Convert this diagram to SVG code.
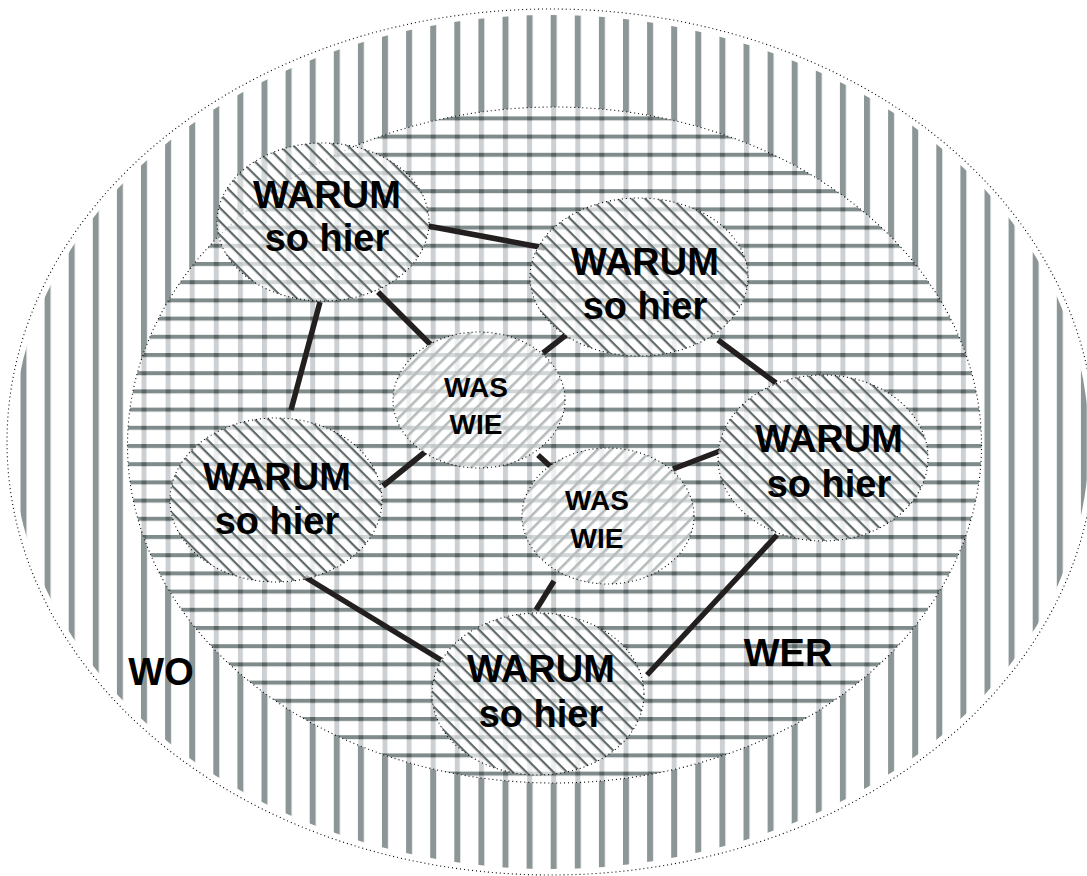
<svg xmlns="http://www.w3.org/2000/svg" width="1087" height="876" viewBox="0 0 1087 876">
  <defs>
    <!-- vertical bars of the outer field -->
    <pattern id="bars" patternUnits="userSpaceOnUse" x="20.5" y="0" width="24.1" height="20">
      <rect x="0" y="0" width="6" height="20" fill="#8c9696"/>
    </pattern>
    <!-- grid of the inner field -->
    <pattern id="grid" patternUnits="userSpaceOnUse" x="21" y="7.2" width="24.1" height="18.2">
      <rect x="0" y="0" width="5" height="18.2" fill="#cdd0d3"/>
      <rect x="0" y="0" width="24.1" height="4" fill="#808b8b"/>
      <rect x="0" y="0" width="5" height="4" fill="#5c6565"/>
    </pattern>
    <!-- dark back-slash hatching -->
    <pattern id="hatchDark" patternUnits="userSpaceOnUse" width="9.6" height="9.6" patternTransform="rotate(45)">
      <rect x="0" y="0" width="9.6" height="2.2" fill="#5f6868"/>
    </pattern>
    <!-- light slash hatching -->
    <pattern id="hatchLight" patternUnits="userSpaceOnUse" width="9.6" height="9.6" patternTransform="rotate(-45)">
      <rect x="0" y="0" width="9.6" height="2.6" fill="#b6bbbc"/>
    </pattern>
    <clipPath id="outerClip">
      <ellipse cx="551" cy="442" rx="538" ry="427"/>
    </clipPath>
  </defs>
  <style>
    .dots { fill: none; stroke: #000; stroke-width: 1.1; stroke-dasharray: 1 3; }
    .big { font-family: "Liberation Sans", Arial, sans-serif; font-weight: bold; font-size: 38px; fill: #000; text-anchor: middle; }
    .small { font-family: "Liberation Sans", Arial, sans-serif; font-weight: bold; font-size: 28px; fill: #000; text-anchor: middle; }
    .link { stroke: #231f1f; stroke-width: 5.5; stroke-linecap: butt; }
    .veil { fill: #fff; fill-opacity: 0.65; }
  </style>

  <rect width="1087" height="876" fill="#fff"/>

  <!-- outer field: WO -->
  <g id="outer">
    <rect x="0" y="0" width="1087" height="876" fill="url(#bars)" clip-path="url(#outerClip)"/>
    <ellipse class="dots" cx="551" cy="442" rx="544" ry="433"/>
  </g>

  <!-- inner field: WER -->
  <g id="inner">
    <ellipse cx="554.5" cy="445" rx="427" ry="338" fill="#fff"/>
    <ellipse cx="554.5" cy="445" rx="427" ry="338" fill="url(#grid)"/>
    <ellipse class="dots" cx="554.5" cy="445" rx="427" ry="338"/>
  </g>

  <!-- connectors -->
  <g id="connectors">
    <line class="link" x1="428" y1="226" x2="545" y2="248"/>
    <line class="link" x1="378" y1="292" x2="431" y2="345"/>
    <line class="link" x1="320" y1="302" x2="291" y2="410"/>
    <line class="link" x1="566" y1="335" x2="543" y2="353"/>
    <line class="link" x1="718" y1="340" x2="776" y2="383"/>
    <line class="link" x1="425" y1="452" x2="383" y2="486"/>
    <line class="link" x1="538" y1="455" x2="551" y2="467"/>
    <line class="link" x1="673" y1="469" x2="720" y2="451"/>
    <line class="link" x1="777" y1="535" x2="647" y2="675"/>
    <line class="link" x1="554" y1="581" x2="536" y2="610"/>
    <line class="link" x1="305" y1="577" x2="441" y2="660"/>
  </g>

  <!-- WARUM nodes -->
  <g id="warum-1">
    <ellipse class="veil" cx="323" cy="222" rx="106" ry="79"/>
    <ellipse cx="323" cy="222" rx="106" ry="79" fill="url(#hatchDark)"/>
    <ellipse class="dots" cx="323" cy="222" rx="106" ry="79"/>
    <text class="big" x="327" y="208">WARUM</text>
    <text class="big" x="327" y="251">so hier</text>
  </g>
  <g id="warum-2">
    <ellipse class="veil" cx="639" cy="277" rx="109" ry="79"/>
    <ellipse cx="639" cy="277" rx="109" ry="79" fill="url(#hatchDark)"/>
    <ellipse class="dots" cx="639" cy="277" rx="109" ry="79"/>
    <text class="big" x="645" y="275">WARUM</text>
    <text class="big" x="645" y="319">so hier</text>
  </g>
  <g id="warum-3">
    <ellipse class="veil" cx="823" cy="458" rx="105" ry="83"/>
    <ellipse cx="823" cy="458" rx="105" ry="83" fill="url(#hatchDark)"/>
    <ellipse class="dots" cx="823" cy="458" rx="105" ry="83"/>
    <text class="big" x="829" y="452">WARUM</text>
    <text class="big" x="829" y="497">so hier</text>
  </g>
  <g id="warum-4">
    <ellipse class="veil" cx="276" cy="500" rx="106" ry="82"/>
    <ellipse cx="276" cy="500" rx="106" ry="82" fill="url(#hatchDark)"/>
    <ellipse class="dots" cx="276" cy="500" rx="106" ry="82"/>
    <text class="big" x="277" y="490">WARUM</text>
    <text class="big" x="277" y="534">so hier</text>
  </g>
  <g id="warum-5">
    <ellipse class="veil" cx="538" cy="694" rx="106" ry="81"/>
    <ellipse cx="538" cy="694" rx="106" ry="81" fill="url(#hatchDark)"/>
    <ellipse class="dots" cx="538" cy="694" rx="106" ry="81"/>
    <text class="big" x="541" y="682">WARUM</text>
    <text class="big" x="541" y="727">so hier</text>
  </g>

  <!-- WAS / WIE nodes -->
  <g id="was-1">
    <ellipse class="veil" cx="479" cy="400" rx="86" ry="68"/>
    <ellipse cx="479" cy="400" rx="86" ry="68" fill="url(#hatchLight)"/>
    <ellipse class="dots" cx="479" cy="400" rx="86" ry="68"/>
    <text class="small" x="476" y="397">WAS</text>
    <text class="small" x="476" y="434">WIE</text>
  </g>
  <g id="was-2">
    <ellipse class="veil" cx="608" cy="516" rx="86" ry="68"/>
    <ellipse cx="608" cy="516" rx="86" ry="68" fill="url(#hatchLight)"/>
    <ellipse class="dots" cx="608" cy="516" rx="86" ry="68"/>
    <text class="small" x="597" y="510">WAS</text>
    <text class="small" x="597" y="548">WIE</text>
  </g>

  <!-- field labels -->
  <g id="labels">
    <text class="big" x="161" y="685">WO</text>
    <text class="big" x="788" y="666">WER</text>
  </g>
</svg>
